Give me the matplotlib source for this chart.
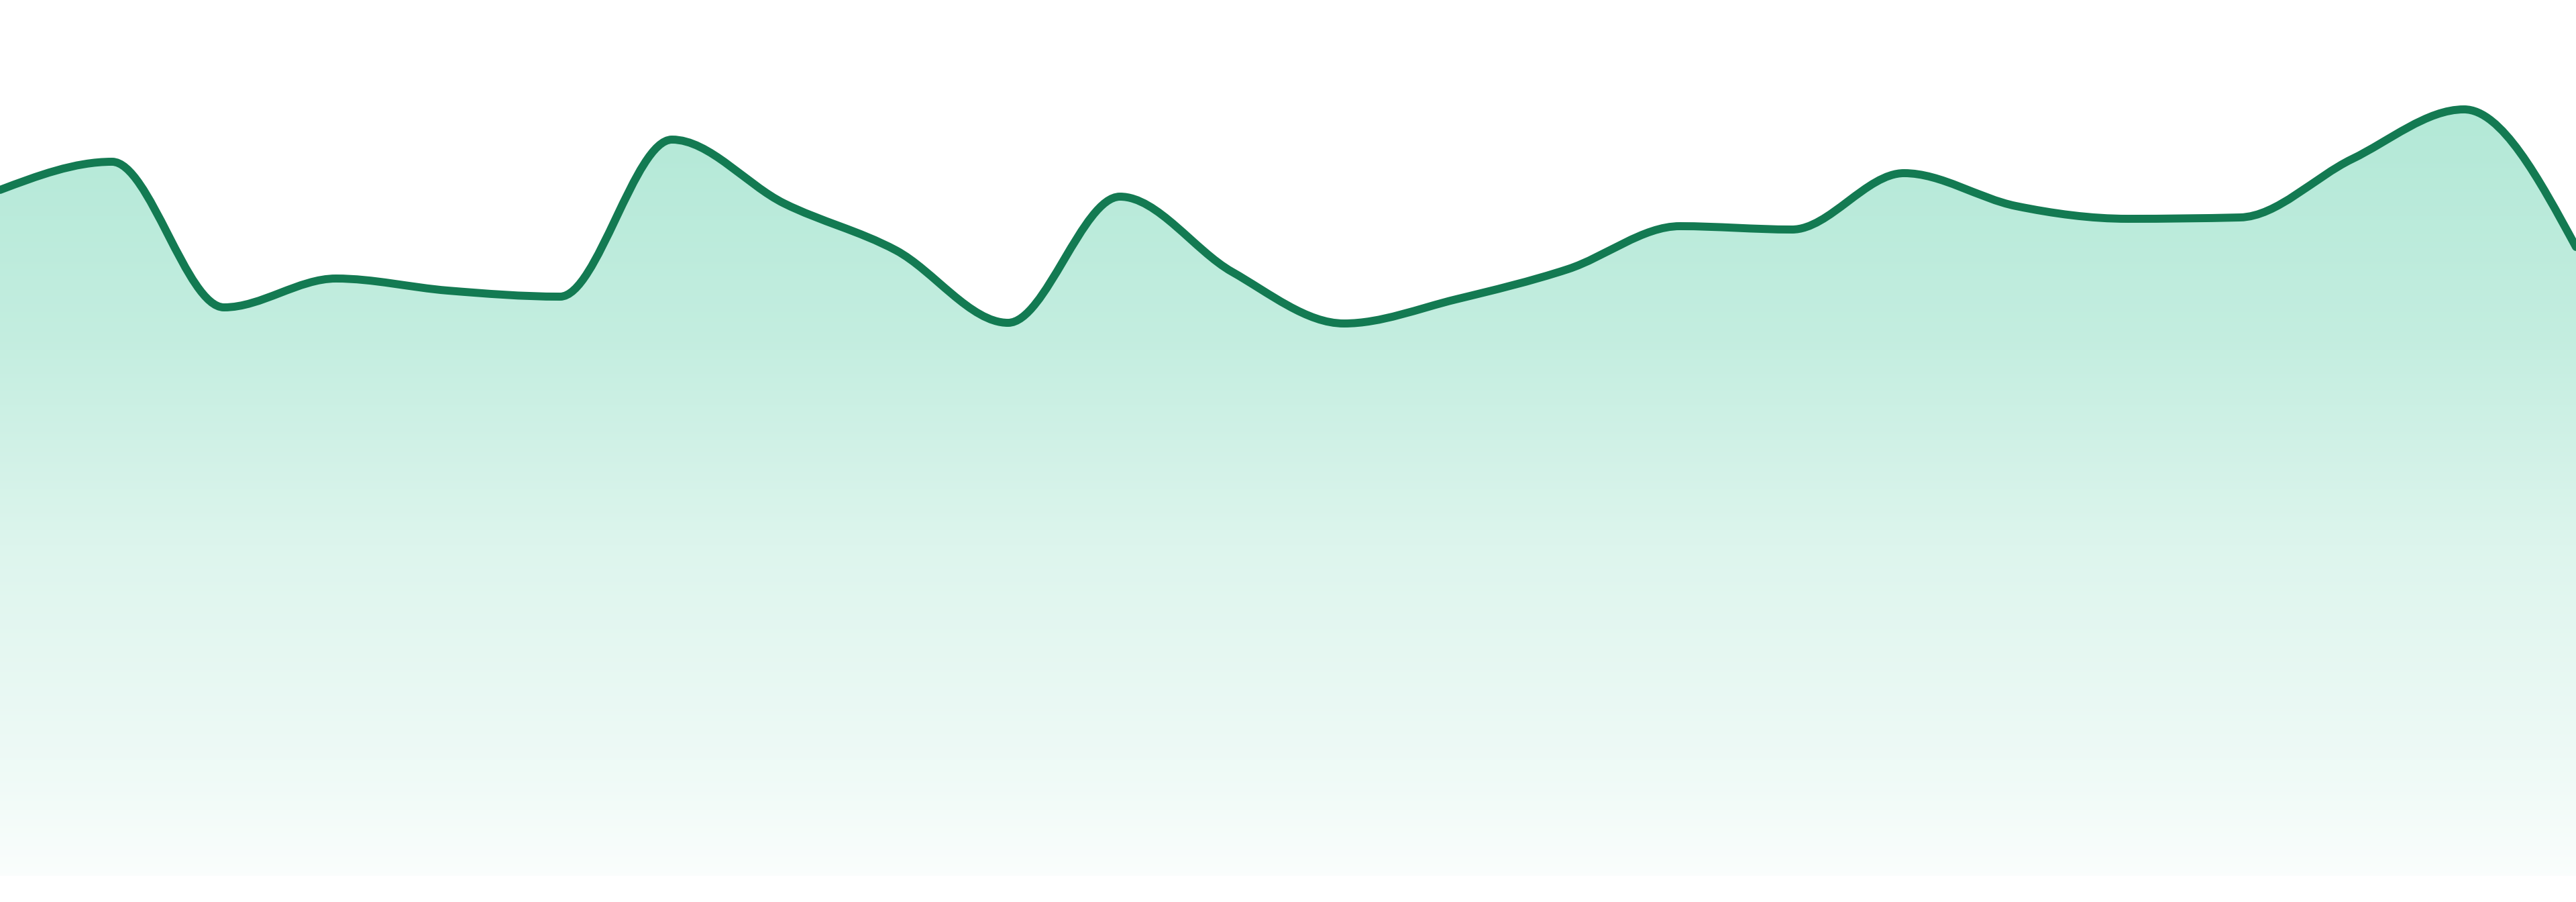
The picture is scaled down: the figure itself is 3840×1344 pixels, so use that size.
import numpy as np
import matplotlib
matplotlib.use("Agg")
import matplotlib.pyplot as plt
from matplotlib.path import Path
from matplotlib.patches import PathPatch

# valeurs (unités arbitraires, 0 = base du remplissage)
valores = [102.2, 106.4, 84.7, 89.0, 87.2, 86.3, 109.7, 100.2, 93.2, 82.4,
           101.2, 90.0, 82.3, 85.9, 90.4, 96.8, 96.3, 104.7, 99.8, 97.9,
           98.1, 106.8, 114.2, 93.7]
indices = np.arange(len(valores))

# dégradé du remplissage: niveau -> opacité
grad_niveis = [0.0, 14.5, 48.4, 80.5, 115.5, 130.5]
grad_alfas = [0.02, 0.065, 0.14, 0.25, 0.32, 0.33]

cor_linha = "#137a52"
cor_area = np.array([16, 185, 129]) / 255.0


def sinal(v):
    return np.where(v < 0, -1.0, 1.0)


def tangentes_monotonas(x, y):
    x = np.asarray(x, float)
    y = np.asarray(y, float)
    n = len(x)
    t = np.zeros(n)
    for i in range(1, n - 1):
        h0 = x[i] - x[i - 1]
        h1 = x[i + 1] - x[i]
        s0 = (y[i] - y[i - 1]) / h0
        s1 = (y[i + 1] - y[i]) / h1
        p = (s0 * h1 + s1 * h0) / (h0 + h1)
        t[i] = (sinal(s0) + sinal(s1)) * min(abs(s0), abs(s1), 0.5 * abs(p))
    h = x[1] - x[0]
    t[0] = (3 * (y[1] - y[0]) / h - t[1]) / 2
    h = x[-1] - x[-2]
    t[-1] = (3 * (y[-1] - y[-2]) / h - t[-2]) / 2
    return t


def caminho_curva(x, y):
    t = tangentes_monotonas(x, y)
    verts = [(x[0], y[0])]
    codes = [Path.MOVETO]
    for i in range(len(x) - 1):
        dx = (x[i + 1] - x[i]) / 3.0
        verts += [(x[i] + dx, y[i] + dx * t[i]),
                  (x[i + 1] - dx, y[i + 1] - dx * t[i + 1]),
                  (x[i + 1], y[i + 1])]
        codes += [Path.CURVE4] * 3
    return verts, codes


fig = plt.figure(figsize=(38.4, 13.44), dpi=100)
ax = fig.add_axes([0, 0, 1, 1])
ax.set_xlim(indices[0], indices[-1])
ax.set_ylim(-3.9, 130.5)
ax.axis("off")

verts, codes = caminho_curva(indices, valores)

# área preenchida
verts_area = verts + [(indices[-1], 0), (indices[0], 0), (indices[0], valores[0])]
codes_area = codes + [Path.LINETO, Path.LINETO, Path.CLOSEPOLY]
area = PathPatch(Path(verts_area, codes_area), facecolor="none", edgecolor="none")
ax.add_patch(area)

niveis = np.linspace(0, 130.5, 800)
alfas = np.interp(niveis, grad_niveis, grad_alfas)
rgb = 1 - alfas[:, None] * (1 - cor_area[None, :])
img = np.repeat(rgb[:, None, :], 2, axis=1)
im = ax.imshow(img, extent=[indices[0], indices[-1], 0, 130.5], origin="lower",
               aspect="auto", interpolation="bilinear", zorder=1)
im.set_clip_path(area)

# linha
linha = PathPatch(Path(verts, codes), facecolor="none", edgecolor=cor_linha,
                  linewidth=8.6, joinstyle="round", capstyle="round", zorder=2)
ax.add_patch(linha)

fig.savefig("out.png", dpi=100, facecolor="white")
